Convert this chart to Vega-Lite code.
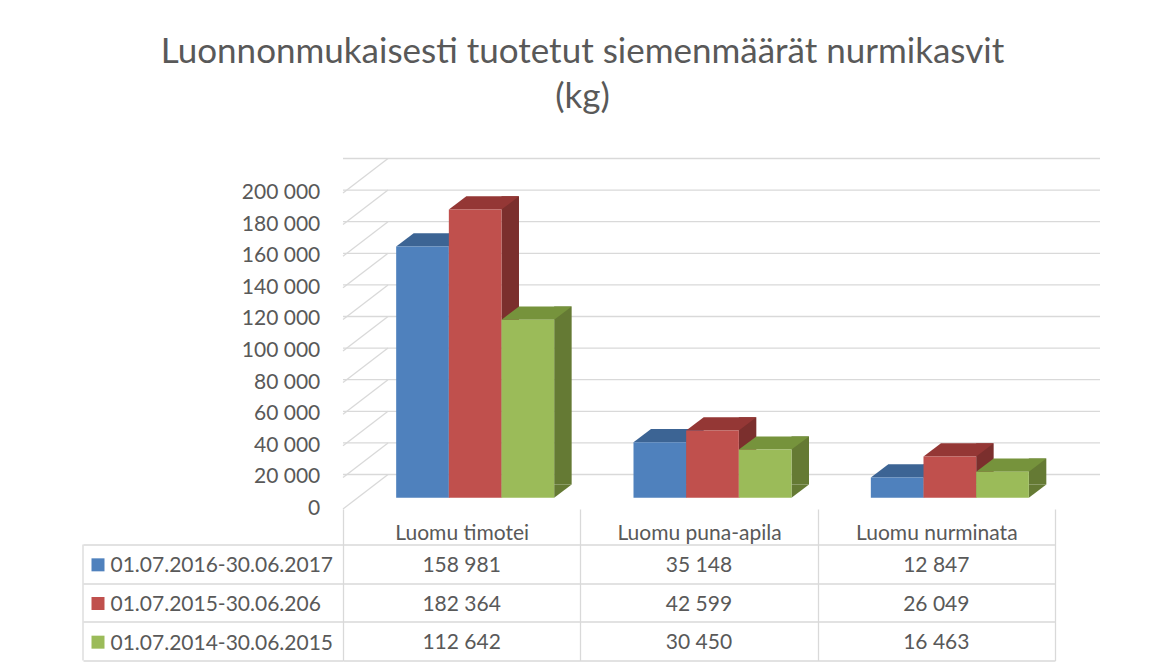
{
  "$schema": "https://vega.github.io/schema/vega-lite/v6.json",
  "padding": {"left": 82, "top": 34, "right": 10, "bottom": 5},
  "background": "white",
  "config": {
    "view": {"stroke": null},
    "font": "Lato",
    "locale": {"number": {"decimal": ",", "thousands": " ", "grouping": [3], "currency": ["", " €"]}}
  },
  "title": {
    "text": ["Luonnonmukaisesti tuotetut siemenmäärät nurmikasvit", "(kg)"],
    "font": "Lato",
    "fontSize": 35,
    "fontWeight": "normal",
    "color": "#595959",
    "lineHeight": 45,
    "anchor": "middle",
    "offset": 43,
    "dx": -9
  },
  "datasets": {
    "seeds": [
      {"kasvi": "Luomu timotei", "kausi": "01.07.2016-30.06.2017", "kg": 158981},
      {"kasvi": "Luomu timotei", "kausi": "01.07.2015-30.06.206", "kg": 182364},
      {"kasvi": "Luomu timotei", "kausi": "01.07.2014-30.06.2015", "kg": 112642},
      {"kasvi": "Luomu puna-apila", "kausi": "01.07.2016-30.06.2017", "kg": 35148},
      {"kasvi": "Luomu puna-apila", "kausi": "01.07.2015-30.06.206", "kg": 42599},
      {"kasvi": "Luomu puna-apila", "kausi": "01.07.2014-30.06.2015", "kg": 30450},
      {"kasvi": "Luomu nurminata", "kausi": "01.07.2016-30.06.2017", "kg": 12847},
      {"kasvi": "Luomu nurminata", "kausi": "01.07.2015-30.06.206", "kg": 26049},
      {"kasvi": "Luomu nurminata", "kausi": "01.07.2014-30.06.2015", "kg": 16463}
    ],
    "grid": [
      {"v": 0}, {"v": 20000}, {"v": 40000}, {"v": 60000}, {"v": 80000}, {"v": 100000},
      {"v": 120000}, {"v": 140000}, {"v": 160000}, {"v": 180000}, {"v": 200000}
    ]
  },
  "bounds": "flush",
  "spacing": 35.5,
  "vconcat": [
    {
      "width": 712,
      "height": 316,
      "data": {"name": "seeds"},
      "resolve": {"scale": {"xOffset": "independent", "fill": "independent"}},
      "layer": [
        {
          "data": {"name": "grid"},
          "mark": {"type": "rule", "color": "#d9d9d9", "strokeWidth": 1.3, "xOffset": 45, "x2Offset": 45, "yOffset": -34.5},
          "encoding": {
            "y": {
              "field": "v", "type": "quantitative", "title": null, "axis": null,
              "scale": {"domain": [0, 200000], "nice": false, "zero": true}
            }
          }
        },
        {
          "data": {"name": "grid"},
          "mark": {"type": "rule", "color": "#d9d9d9", "strokeWidth": 1.3, "x2Offset": 45, "y2Offset": -34.5},
          "encoding": {
            "x": {
              "datum": "Luomu timotei", "type": "nominal", "bandPosition": 0,
              "scale": {"type": "band", "domain": ["Luomu timotei", "Luomu puna-apila", "Luomu nurminata"], "paddingInner": 0, "paddingOuter": 0},
              "axis": null
            },
            "x2": {"datum": "Luomu timotei", "bandPosition": 0},
            "y": {"field": "v", "type": "quantitative", "title": null, "axis": null},
            "y2": {"field": "v"}
          }
        },
        {
          "data": {"name": "grid"},
          "mark": {"type": "text", "font": "Lato", "fontSize": 21, "color": "#595959", "align": "right", "baseline": "middle", "dx": -22.7},
          "encoding": {
            "x": {"datum": "Luomu timotei", "type": "nominal", "bandPosition": 0, "axis": null},
            "y": {"field": "v", "type": "quantitative", "title": null, "axis": null},
            "text": {"field": "v", "type": "quantitative", "format": ",d"}
          }
        },
        {
          "mark": {"type": "bar", "yOffset": -24.5, "y2Offset": -24.5},
          "encoding": {
            "x": {"field": "kasvi", "type": "nominal", "axis": null},
            "xOffset": {
              "field": "kausi", "type": "nominal",
              "scale": {"type": "band", "domain": ["01.07.2016-30.06.2017", "01.07.2015-30.06.206", "01.07.2014-30.06.2015"], "range": [105.83, 228.66], "paddingInner": 0.668, "paddingOuter": 0}
            },
            "y": {"field": "kg", "type": "quantitative", "title": null, "axis": null},
            "y2": {"datum": 0},
            "fill": {
              "field": "kausi", "type": "nominal", "legend": null,
              "scale": {"domain": ["01.07.2016-30.06.2017", "01.07.2015-30.06.206", "01.07.2014-30.06.2015"], "range": ["#385D8A", "#7B2F2D", "#657A34"]}
            }
          }
        },
        {
          "mark": {"type": "point", "shape": "M 26.33 0 L 26.33 -13.2 L 43.83 -13.2 Z", "size": 4, "filled": true, "opacity": 1, "strokeWidth": 0, "yOffset": -11.3},
          "encoding": {
            "x": {"field": "kasvi", "type": "nominal", "axis": null},
            "xOffset": {
              "field": "kausi", "type": "nominal",
              "scale": {"type": "band", "domain": ["01.07.2016-30.06.2017", "01.07.2015-30.06.206", "01.07.2014-30.06.2015"], "range": [53.17, 211.17], "paddingInner": 0, "paddingOuter": 0}
            },
            "y": {"datum": 0, "type": "quantitative", "title": null, "axis": null},
            "fill": {
              "field": "kausi", "type": "nominal", "legend": null,
              "scale": {"domain": ["01.07.2016-30.06.2017", "01.07.2015-30.06.206", "01.07.2014-30.06.2015"], "range": ["#385D8A", "#7B2F2D", "#657A34"]}
            }
          }
        },
        {
          "mark": {"type": "point", "shape": "M -26.33 0 L 26.33 0 L 43.83 -13.2 L -8.83 -13.2 Z", "size": 4, "filled": true, "opacity": 1, "strokeWidth": 0, "yOffset": -11.3},
          "encoding": {
            "x": {"field": "kasvi", "type": "nominal", "axis": null},
            "xOffset": {
              "field": "kausi", "type": "nominal",
              "scale": {"type": "band", "domain": ["01.07.2016-30.06.2017", "01.07.2015-30.06.206", "01.07.2014-30.06.2015"], "range": [53.17, 211.17], "paddingInner": 0, "paddingOuter": 0}
            },
            "y": {"field": "kg", "type": "quantitative", "title": null, "axis": null},
            "fill": {
              "field": "kausi", "type": "nominal", "legend": null,
              "scale": {"domain": ["01.07.2016-30.06.2017", "01.07.2015-30.06.206", "01.07.2014-30.06.2015"], "range": ["#3C6494", "#943735", "#76933C"]}
            }
          }
        },
        {
          "mark": {"type": "bar", "yOffset": -11.3, "y2Offset": -11.3},
          "encoding": {
            "x": {"field": "kasvi", "type": "nominal", "axis": null},
            "xOffset": {
              "field": "kausi", "type": "nominal",
              "scale": {"type": "band", "domain": ["01.07.2016-30.06.2017", "01.07.2015-30.06.206", "01.07.2014-30.06.2015"], "range": [53.17, 211.17], "paddingInner": 0, "paddingOuter": 0}
            },
            "y": {"field": "kg", "type": "quantitative", "title": null, "axis": null},
            "y2": {"datum": 0},
            "color": {
              "field": "kausi", "type": "nominal", "legend": null,
              "scale": {"domain": ["01.07.2016-30.06.2017", "01.07.2015-30.06.206", "01.07.2014-30.06.2015"], "range": ["#4F81BD", "#C0504D", "#9BBB59"]}
            }
          }
        }
      ]
    },
    {
      "width": 712,
      "height": 116,
      "data": {"name": "seeds"},
      "layer": [
        {
          "mark": {"type": "text", "font": "Lato", "fontSize": 21, "color": "#595959", "dy": 2},
          "encoding": {
            "x": {
              "field": "kasvi", "type": "nominal",
              "scale": {"type": "band", "domain": ["Luomu timotei", "Luomu puna-apila", "Luomu nurminata"], "paddingInner": 0, "paddingOuter": 0},
              "axis": {
                "orient": "top", "title": null, "domain": false, "ticks": true, "tickBand": "extent", "tickSize": 35.5,
                "tickColor": "#d9d9d9", "tickWidth": 1.3, "grid": true, "gridColor": "#d9d9d9", "gridWidth": 1.3,
                "labelFont": "Lato", "labelFontSize": 21, "labelColor": "#595959", "labelPadding": -30.3,
                "labelBaseline": "alphabetic", "labelAngle": 0, "labelLimit": 0
              }
            },
            "y": {
              "field": "kausi", "type": "nominal",
              "scale": {"type": "band", "domain": ["01.07.2016-30.06.2017", "01.07.2015-30.06.206", "01.07.2014-30.06.2015"], "paddingInner": 0, "paddingOuter": 0},
              "axis": {
                "title": null, "domain": false, "ticks": true, "tickBand": "extent", "tickSize": 260,
                "tickColor": "#d9d9d9", "tickWidth": 1.3, "grid": true, "gridColor": "#d9d9d9", "gridWidth": 1.3,
                "labelFont": "Lato", "labelFontSize": 21, "labelColor": "#595959", "labelAlign": "left",
                "labelPadding": -27, "labelLimit": 0, "labelOffset": 2
              }
            },
            "text": {"field": "kg", "type": "quantitative", "format": ",d"}
          }
        },
        {
          "transform": [{"filter": "datum.kasvi == 'Luomu timotei'"}],
          "mark": {"type": "square", "size": 169, "opacity": 1, "xOffset": -245, "yOffset": 1},
          "encoding": {
            "x": {"datum": "Luomu timotei", "type": "nominal", "bandPosition": 0},
            "y": {"field": "kausi", "type": "nominal"},
            "color": {
              "field": "kausi", "type": "nominal", "legend": null,
              "scale": {"domain": ["01.07.2016-30.06.2017", "01.07.2015-30.06.206", "01.07.2014-30.06.2015"], "range": ["#4F81BD", "#C0504D", "#9BBB59"]}
            }
          }
        },
        {
          "transform": [{"filter": "datum.kasvi == 'Luomu timotei' && datum.kausi == '01.07.2016-30.06.2017'"}],
          "mark": {"type": "rule", "color": "#d9d9d9", "strokeWidth": 1.3, "xOffset": -260},
          "encoding": {
            "x": {"datum": "Luomu timotei", "type": "nominal", "bandPosition": 0}
          }
        }
      ]
    }
  ]
}
